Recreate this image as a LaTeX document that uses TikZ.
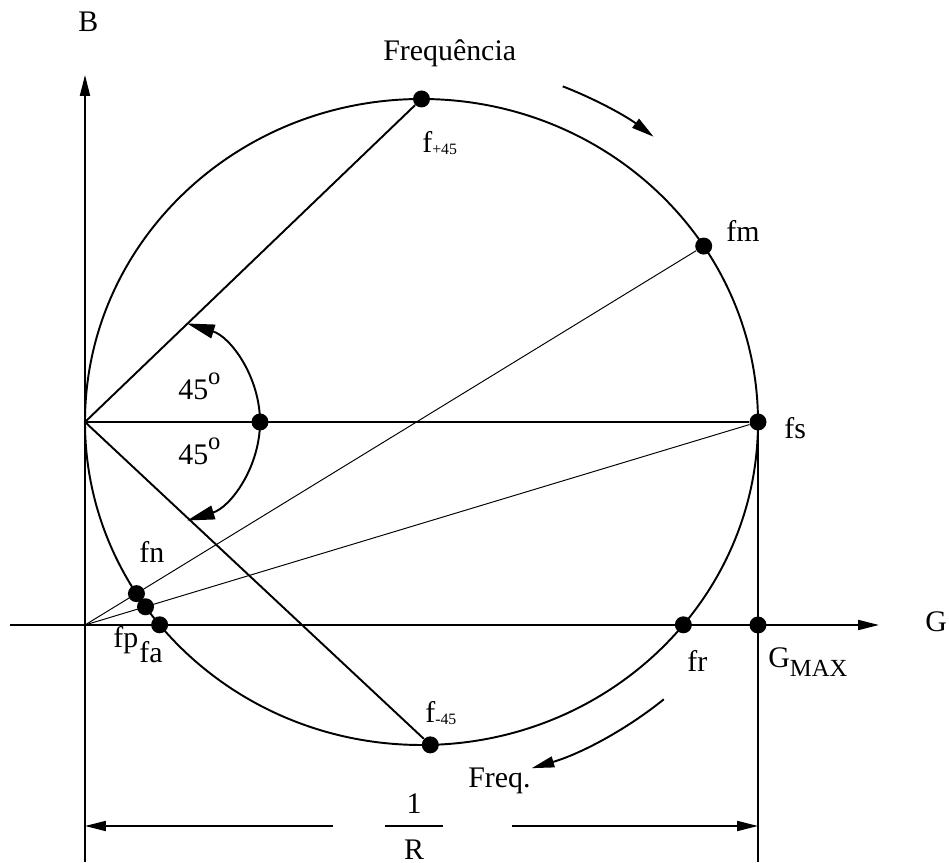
\documentclass[tikz,border=0pt]{standalone}
\usepackage{fontspec}
\setmainfont{Liberation Serif}
\usepackage{tikz}
\usetikzlibrary{arrows.meta, positioning, calc}

\begin{document}
\begin{tikzpicture}[
    fdot/.style={circle, fill=black, inner sep=0pt, minimum size=0.34cm},
    lbl/.style={inner sep=0pt, anchor=base west, font=\fontsize{17}{20}\selectfont},
    heavy/.style={line width=1.1pt},
    ray/.style={line width=0.55pt},
    axisarrow/.style={line width=1.1pt, -{Triangle[length=0.42cm, width=0.2cm]}},
    freqarrow/.style={line width=1.1pt, -{Triangle[length=0.45cm, width=0.22cm]}},
    anglearrow/.style={line width=1.1pt, -{Triangle[length=0.55cm, width=0.28cm]}}
]
    \useasboundingbox (-1.7,-4.76) rectangle (17.28,12.5);

    % eixos
    \coordinate (O) at (0,0);
    \coordinate (Bbot) at (0,-4.74);
    \coordinate (Btop) at (0,11.0);
    \coordinate (Gleft) at (-1.5,0);
    \coordinate (Gright) at (15.88,0);
    \draw[axisarrow] (Bbot) -- (Btop);
    \draw[axisarrow] (Gleft) -- (Gright);
    \node[lbl] (Blab) at (-0.14,11.86) {B};
    \node[lbl] (Glab) at (16.8,-0.14) {G};

    % circulo
    \coordinate (C) at (6.73,4.06);
    \coordinate (P) at (0,4.06);
    \draw[heavy] (C) ellipse [x radius=6.73, y radius=6.46];

    \node[fdot] (fplus) at ($(C)+(90:6.73 and 6.46)$) {};
    \node[fdot] (fminus) at ($(C)+(-88.5:6.73 and 6.46)$) {};
    \node[fdot] (fs) at ($(C)+(0:6.73 and 6.46)$) {};
    \node[fdot] (fm) at ($(C)+(33:6.73 and 6.46)$) {};
    \node[fdot] (fn) at ($(C)+(212.1:6.73 and 6.46)$) {};
    \node[fdot] (fp) at ($(C)+(214.9:6.73 and 6.46)$) {};
    \node[fdot] (fa) at ($(C)+(218.9:6.73 and 6.46)$) {};
    \node[fdot] (fr) at ($(C)+(-38.9:6.73 and 6.46)$) {};
    \node[fdot] (gmax) at (13.46,0) {};
    \node[fdot] (mid) at (3.5,4.06) {};

    \draw[heavy] (fplus) -- (P) -- (fminus);
    \draw[heavy] (P) -- (fs);
    \draw[ray] (O) -- (fm);
    \draw[ray] (O) -- (fs);

    % angulos de 45
    \draw[anglearrow] (mid.center) arc[start angle=0, end angle=73, radius=2.06];
    \draw[anglearrow] (mid.center) arc[start angle=0, end angle=-73, radius=2.06];
    \node[lbl] (up45) at (1.86,4.5) {45\raisebox{9pt}{\fontsize{14}{16}\selectfont o}};
    \node[lbl] (dn45) at (1.86,3.2) {45\raisebox{9pt}{\fontsize{14}{16}\selectfont o}};

    % sentido da frequencia
    \draw[freqarrow] ($(C)+(68:7.54 and 7.24)$) arc[start angle=68, end angle=52, x radius=7.54, y radius=7.24];
    \draw[freqarrow] ($(C)+(-50:7.54 and 7.24)$) arc[start angle=-50, end angle=-73, x radius=7.54, y radius=7.24];
    \node[lbl] (freqtop) at (5.96,11.28) {Frequência};
    \node[lbl] (freqbot) at (7.66,-3.26) {Freq.};

    % rotulos
    \node[lbl] (lplus) at (6.74,9.44) {f\raisebox{-1pt}{\fontsize{9}{10}\selectfont +45}};
    \node[lbl] (lminus) at (6.8,-1.96) {f\raisebox{-1pt}{\fontsize{9}{10}\selectfont -45}};
    \node[lbl] (lfm) at (12.82,7.66) {fm};
    \node[lbl] (lfs) at (13.98,3.72) {fs};
    \node[lbl] (lfn) at (1.08,1.24) {fn};
    \node[lbl] (lfp) at (0.56,-0.46) {fp};
    \node[lbl] (lfa) at (1.08,-0.76) {fa};
    \node[lbl] (lfr) at (12.04,-0.94) {fr};
    \node[lbl] (lgmax) at (13.66,-0.86) {G\raisebox{-5pt}{\fontsize{14}{16}\selectfont MAX}};

    % cota 1/R
    \coordinate (dimL) at (0,-4.02);
    \coordinate (dimR) at (13.46,-4.02);
    \draw[heavy] (fs) -- (13.46,-4.74);
    \node[inner sep=0pt,
          label={[inner sep=0pt, label distance=0.22cm, font=\fontsize{17}{20}\selectfont]above:1},
          label={[inner sep=0pt, label distance=0.24cm, font=\fontsize{17}{20}\selectfont]below:R}]
          (frac) at (6.58,-4.02) {\rule{1.16cm}{0.9pt}};
    \draw[axisarrow] ($(frac.west)+(-1.04,0)$) -- (dimL);
    \draw[axisarrow] ($(frac.east)+(1.38,0)$) -- (dimR);
\end{tikzpicture}
\end{document}
